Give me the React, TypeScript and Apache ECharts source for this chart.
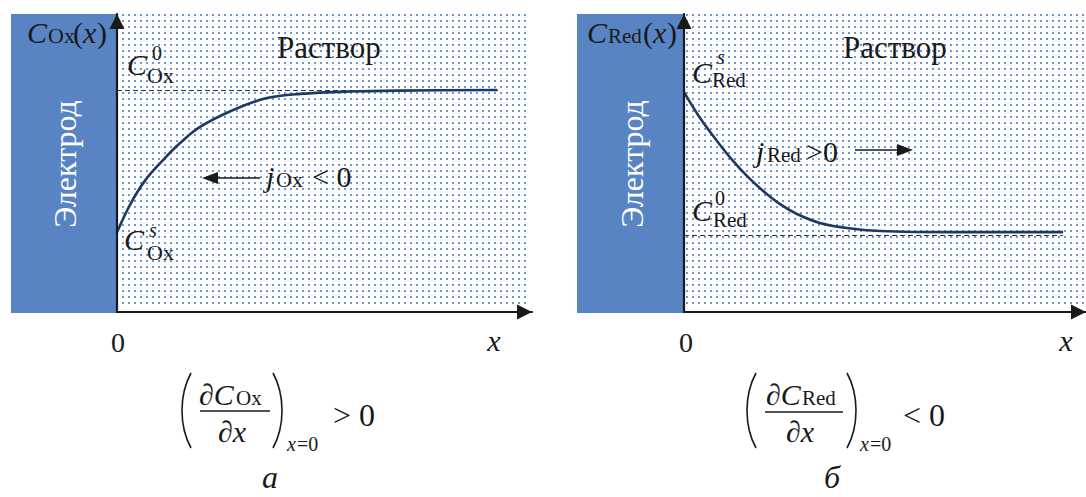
import React, { useEffect, useRef } from "react";
import * as echarts from "echarts";

// Concentration profiles near the electrode, x in arbitrary distance units (0..10)
const oxX = [0, 0.31, 0.67, 1.11, 1.52, 2.0, 2.8, 3.61, 4.41, 5.61, 6.82, 9.16];
const oxC = [2.68, 3.59, 4.4, 5.1, 5.67, 6.21, 6.78, 7.18, 7.32, 7.4, 7.43, 7.45];
const oxBulk = 7.45;
const oxBulkEnd = 9.23;

const redX = [0, 0.4, 0.82, 1.22, 1.57, 1.97, 2.39, 2.81, 3.38, 4.05, 4.88, 6.62, 9.43];
const redC = [7.38, 6.51, 5.74, 5.07, 4.56, 4.06, 3.62, 3.29, 2.99, 2.82, 2.72, 2.68, 2.68];
const redBulk = 2.58;
const redBulkEnd = 9.43;

const SERIF = "Liberation Serif";
const INK = "#1a1a1a";
const ELECTRODE = "#5884c4";
const CURVE = "#1f3a60";

function makeDots() {
  const c = document.createElement("canvas");
  c.width = 6;
  c.height = 6;
  const ctx = c.getContext("2d")!;
  ctx.fillStyle = "rgba(70, 122, 196, 0.78)";
  ctx.fillRect(2, 2, 2, 2);
  return c;
}

// text placed by its baseline
function t(
  text: string,
  x: number,
  baseline: number,
  size: number,
  opts: { italic?: boolean; align?: string; color?: string; rotation?: number } = {}
) {
  return {
    type: "text",
    x,
    y: baseline - 0.34 * size,
    z: 20,
    rotation: opts.rotation || 0,
    style: {
      text,
      fill: opts.color || INK,
      fontFamily: SERIF,
      fontSize: size,
      fontStyle: opts.italic ? "italic" : "normal",
      align: opts.align || "left",
      verticalAlign: "middle",
    },
  };
}

function line(x1: number, y1: number, x2: number, y2: number, w = 1.5) {
  return { type: "line", z: 20, shape: { x1, y1, x2, y2 }, style: { stroke: INK, lineWidth: w } };
}

function paren(x: number, ctrl: number) {
  return {
    type: "bezierCurve",
    z: 20,
    shape: { x1: x, y1: 373, x2: x, y2: 448, cpx1: ctrl, cpy1: 395, cpx2: ctrl, cpy2: 426 },
    style: { stroke: INK, lineWidth: 1.6, fill: null },
  };
}

function arrowHead(tipX: number, y: number, dir: number) {
  return {
    type: "polygon",
    z: 20,
    shape: { points: [[tipX, y], [tipX - dir * 16, y - 6], [tipX - dir * 16, y + 6]] },
    style: { fill: INK },
  };
}

function axisPair(gridIndex: number) {
  const axisLine = {
    show: true,
    onZero: false,
    symbol: ["none", "triangle"],
    symbolSize: [15, 15],
    symbolOffset: [0, -7.5],
    lineStyle: { color: INK, width: 2.2 },
  };
  const common = {
    type: "value",
    gridIndex,
    min: 0,
    max: 10,
    z: 10,
    axisLine,
    axisTick: { show: false },
    axisLabel: { show: false },
    splitLine: { show: false },
  };
  return { x: { ...common }, y: { ...common } };
}

function profile(
  xs: number[],
  cs: number[],
  bulk: number,
  bulkEnd: number,
  idx: number
) {
  return {
    type: "line",
    xAxisIndex: idx,
    yAxisIndex: idx,
    data: xs.map((x, i) => [x, cs[i]]),
    smooth: 0.35,
    showSymbol: false,
    silent: true,
    z: 5,
    lineStyle: { color: CURVE, width: 2.6 },
    markLine: {
      silent: true,
      symbol: ["none", "none"],
      label: { show: false },
      lineStyle: { color: "#333", width: 1.2, type: [5, 3] },
      data: [[{ coord: [0, bulk] }, { coord: [bulkEnd, bulk] }]],
    },
  };
}

export default function App() {
  const ref = useRef<HTMLDivElement>(null);

  useEffect(() => {
    document.body.style.margin = "0";
    if (!ref.current) return;
    const chart = echarts.init(ref.current, null, { renderer: "svg" });
    const dots = { image: makeDots(), repeat: "repeat", imageWidth: 6, imageHeight: 6 };
    const a0 = axisPair(0);
    const a1 = axisPair(1);

    const graphics: any[] = [
      // electrode blocks and solution regions
      { type: "rect", z: 1, shape: { x: 11, y: 14, width: 106, height: 299 }, style: { fill: ELECTRODE } },
      { type: "rect", z: 1, shape: { x: 117, y: 14, width: 413, height: 294 }, style: { fill: dots } },
      { type: "rect", z: 1, shape: { x: 577, y: 14, width: 107, height: 299 }, style: { fill: ELECTRODE } },
      { type: "rect", z: 1, shape: { x: 684, y: 14, width: 402, height: 294 }, style: { fill: dots } },

      t("Электрод", 65, 164 + 0.34 * 32, 32, { color: "#ffffff", align: "center", rotation: Math.PI / 2 }),
      t("Электрод", 632, 164 + 0.34 * 32, 32, { color: "#ffffff", align: "center", rotation: Math.PI / 2 }),

      // panel a
      t("C", 27, 43, 30, { italic: true }),
      t("Ox", 48, 43, 22),
      t("(", 73, 43, 30),
      t("x", 83, 43, 30, { italic: true }),
      t(")", 97, 43, 30),
      t("Раствор", 277, 58, 31),
      t("C", 127, 75, 30, { italic: true }),
      t("0", 152, 60, 20),
      t("Ox", 147, 83, 22),
      t("C", 124, 250, 30, { italic: true }),
      t("s", 149, 237, 20, { italic: true }),
      t("Ox", 147, 260, 22),
      line(218, 178, 260, 178, 1.5),
      arrowHead(202, 178, -1),
      t("j", 266, 187, 30, { italic: true }),
      t("Ox", 276, 187, 22),
      t("< 0", 312, 187, 30),
      t("0", 118, 352, 28, { align: "center" }),
      t("x", 494, 351, 30, { italic: true, align: "center" }),
      paren(191, 179),
      t("∂C", 199, 405, 30, { italic: true }),
      t("Ox", 236, 405, 21),
      line(200, 411, 270, 411, 1.3),
      t("∂x", 232, 442, 30, { italic: true, align: "center" }),
      paren(273, 285),
      t("x", 287, 451, 20, { italic: true }),
      t("=0", 297, 451, 20),
      t("> 0", 333, 426, 32),
      t("а", 270, 488, 32, { italic: true, align: "center" }),

      // panel b
      t("C", 587, 43, 30, { italic: true }),
      t("Red", 608, 43, 21),
      t("(", 643, 43, 30),
      t("x", 653, 43, 30, { italic: true }),
      t(")", 667, 43, 30),
      t("Раствор", 843, 58, 31),
      t("C", 692, 83, 30, { italic: true }),
      t("s", 717, 64, 20, { italic: true }),
      t("Red", 712, 87, 21),
      t("C", 692, 221, 30, { italic: true }),
      t("0", 715, 205, 20),
      t("Red", 713, 227, 21),
      t("j", 756, 162, 30, { italic: true }),
      t("Red", 767, 162, 21),
      t(">0", 806, 162, 30),
      line(855, 150, 898, 150, 1.5),
      arrowHead(913, 150, 1),
      t("0", 686, 352, 28, { align: "center" }),
      t("x", 1066, 351, 30, { italic: true, align: "center" }),
      paren(756, 744),
      t("∂C", 766, 405, 30, { italic: true }),
      t("Red", 802, 405, 21),
      line(765, 412, 843, 412, 1.3),
      t("∂x", 800, 442, 30, { italic: true, align: "center" }),
      paren(847, 859),
      t("x", 860, 451, 20, { italic: true }),
      t("=0", 870, 451, 20),
      t("< 0", 903, 426, 32),
      t("б", 832, 488, 32, { italic: true, align: "center" }),
    ];

    chart.setOption({
      animation: false,
      backgroundColor: "#ffffff",
      grid: [
        { left: 117, top: 14, width: 415, height: 298 },
        { left: 684, top: 14, width: 402, height: 298 },
      ],
      xAxis: [a0.x, a1.x],
      yAxis: [a0.y, a1.y],
      graphic: { elements: graphics },
      series: [
        profile(oxX, oxC, oxBulk, oxBulkEnd, 0),
        profile(redX, redC, redBulk, redBulkEnd, 1),
      ],
    });

    return () => chart.dispose();
  }, []);

  return <div ref={ref} style={{ width: 1086, height: 497 }} />;
}
